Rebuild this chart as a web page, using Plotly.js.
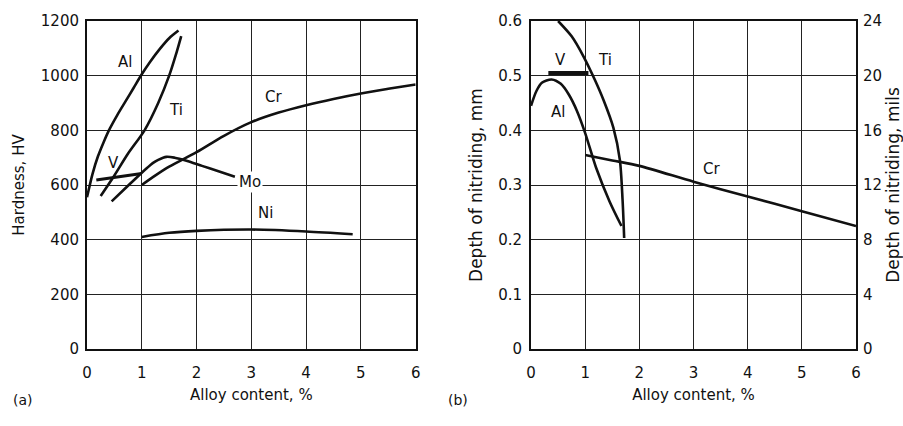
<!DOCTYPE html>
<html><head><meta charset="utf-8">
<script src="https://cdn.plot.ly/plotly-3.0.1.min.js"></script>
<style>html,body{margin:0;padding:0;background:#fff}#chart{width:903px;height:426px}</style>
</head><body><div id="chart"></div><script>
// (a) Hardness vs alloy content
const alX = [0.0, 0.1, 0.2, 0.3, 0.4, 0.55, 0.7, 0.85, 1.0, 1.15, 1.33, 1.5, 1.67];
const alHV = [555, 640, 705, 755, 800, 855, 905, 955, 1005, 1050, 1098, 1137, 1165];
const tiX = [0.25, 0.5, 0.75, 1.05, 1.3, 1.5, 1.62, 1.72];
const tiHV = [560, 635, 715, 800, 900, 1000, 1075, 1145];
const vX = [0.17, 1.0];
const vHV = [618, 642];
const moX = [0.45, 0.7, 1.0, 1.1, 1.2, 1.3, 1.45, 1.6, 1.8, 2.1, 2.4, 2.7];
const moHV = [540, 588, 645, 663, 680, 692, 703, 700, 690, 670, 650, 630];
const crX = [1.0, 1.25, 1.5, 2.0, 2.5, 3.0, 3.5, 4.0, 4.5, 5.0, 5.5, 6.0];
const crHV = [600, 635, 667, 720, 780, 830, 865, 892, 915, 935, 952, 968];
const niX = [1.0, 1.5, 2.0, 3.0, 4.0, 4.85];
const niHV = [410, 425, 432, 437, 430, 420];

// (b) Depth of nitriding vs alloy content
const al2X = [0.0, 0.1, 0.2, 0.38, 0.55, 0.7, 0.85, 1.0, 1.2, 1.45, 1.67];
const al2D = [0.445, 0.472, 0.487, 0.493, 0.485, 0.465, 0.435, 0.395, 0.332, 0.27, 0.225];
const ti2X = [0.5, 0.75, 0.97, 1.18, 1.34, 1.52, 1.64, 1.69, 1.72];
const ti2D = [0.6, 0.572, 0.535, 0.492, 0.455, 0.405, 0.346, 0.273, 0.203];
const v2X = [0.32, 1.06];
const v2D = [0.505, 0.505];
const cr2X = [1.0, 1.5, 2.0, 3.0, 4.0, 5.0, 6.0];
const cr2D = [0.355, 0.345, 0.335, 0.306, 0.279, 0.252, 0.225];

const xTicks = [0, 1, 2, 3, 4, 5, 6];
const hvTicks = [0, 200, 400, 600, 800, 1000, 1200];
const mmTicks = [0, 0.1, 0.2, 0.3, 0.4, 0.5, 0.6];
const milTicks = [0, 4, 8, 12, 16, 20, 24];

const INK = '#111';
function ln(x, y, xa, ya, w) {
  return {x: x, y: y, xaxis: xa, yaxis: ya, mode: 'lines', type: 'scatter',
    line: {color: INK, width: w || 2.6, shape: 'spline', smoothing: 0.8},
    hoverinfo: 'skip', showlegend: false};
}
const data = [
  ln(alX, alHV, 'x', 'y'), ln(tiX, tiHV, 'x', 'y'), ln(vX, vHV, 'x', 'y', 3),
  ln(moX, moHV, 'x', 'y'), ln(crX, crHV, 'x', 'y'), ln(niX, niHV, 'x', 'y'),
  ln(al2X, al2D, 'x2', 'y2'), ln(ti2X, ti2D, 'x2', 'y2'), ln(v2X, v2D, 'x2', 'y2', 4),
  ln(cr2X, cr2D, 'x2', 'y2'),
  {x: [0, 6], y: [0, 24], xaxis: 'x2', yaxis: 'y3', mode: 'lines', line: {width: 0},
   hoverinfo: 'skip', showlegend: false}
];

const axBase = {showgrid: true, gridcolor: '#222', gridwidth: 1, showline: true,
  linecolor: INK, linewidth: 2, mirror: true, ticks: '', zeroline: false,
  fixedrange: true, automargin: false};

function lab(text, x, y, xa, ya, bg) {
  return {text: text, x: x, y: y, xref: xa, yref: ya, showarrow: false,
    font: {size: 15, color: INK}, bgcolor: bg || 'rgba(0,0,0,0)', borderpad: 1};
}

const layout = {
  width: 903, height: 426,
  paper_bgcolor: '#fff', plot_bgcolor: '#fff',
  font: {family: 'DejaVu Sans', size: 15, color: INK},
  margin: {l: 87, r: 47, t: 21, b: 77},
  xaxis: Object.assign({}, axBase, {domain: [0, 0.4274], range: [0, 6], tickvals: xTicks,
    anchor: 'y', ticklabelstandoff: 9,
    title: {text: 'Alloy content, %', standoff: 8, font: {size: 15}}}),
  yaxis: Object.assign({}, axBase, {domain: [0, 1], range: [0, 1200], tickvals: hvTicks,
    anchor: 'x', ticklabelstandoff: 3,
    title: {text: 'Hardness, HV', standoff: 13, font: {size: 15}}}),
  xaxis2: Object.assign({}, axBase, {domain: [0.5774, 1], range: [0, 6], tickvals: xTicks,
    anchor: 'y2', ticklabelstandoff: 9,
    title: {text: 'Alloy content, %', standoff: 8, font: {size: 15}}}),
  yaxis2: Object.assign({}, axBase, {domain: [0, 1], range: [0, 0.6], tickvals: mmTicks,
    anchor: 'x2', ticklabelstandoff: 4,
    title: {text: 'Depth of nitriding, mm', standoff: 11, font: {size: 17}}}),
  yaxis3: Object.assign({}, axBase, {domain: [0, 1], range: [0, 24], tickvals: milTicks,
    anchor: 'x2', overlaying: 'y2', side: 'right', showgrid: false, showline: false,
    mirror: false, ticklabelstandoff: 6,
    title: {text: 'Depth of nitriding, mils', standoff: 13, font: {size: 17}}}),
  annotations: [
    lab('Al', 0.69, 1050, 'x', 'y'),
    lab('Ti', 1.63, 875, 'x', 'y'),
    lab('V', 0.48, 680, 'x', 'y'),
    lab('Cr', 3.4, 922, 'x', 'y'),
    lab('Mo', 2.97, 612, 'x', 'y', '#fff'),
    lab('Ni', 3.25, 498, 'x', 'y'),
    lab('V', 0.535, 0.528, 'x2', 'y2'),
    lab('Ti', 1.37, 0.528, 'x2', 'y2'),
    lab('Al', 0.5, 0.434, 'x2', 'y2'),
    lab('Cr', 3.34, 0.33, 'x2', 'y2'),
    {text: '(a)', x: -0.0988, y: -0.186, xref: 'paper', yref: 'paper', showarrow: false,
     font: {size: 14, color: INK}},
    {text: '(b)', x: 0.4824, y: -0.186, xref: 'paper', yref: 'paper', showarrow: false,
     font: {size: 14, color: INK}}
  ]
};

Plotly.newPlot('chart', data, layout, {staticPlot: true, displayModeBar: false});
</script></body></html>
